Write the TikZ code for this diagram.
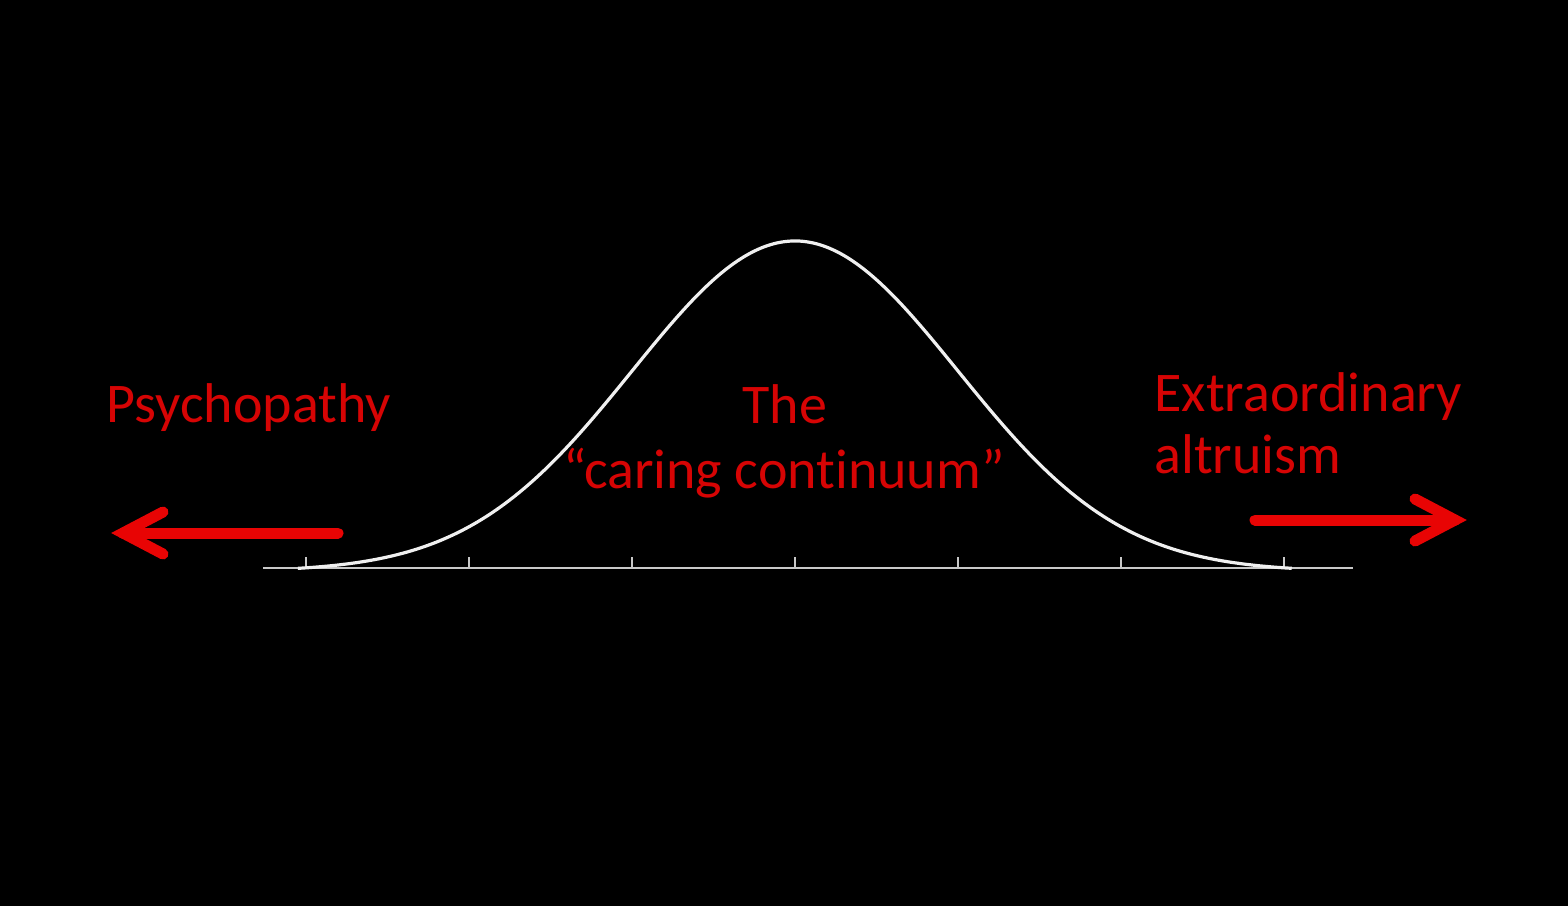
\documentclass[tikz,border=0pt]{standalone}
\usepackage{fontspec}
\setmainfont{Carlito}[Ligatures=NoCommon]
\definecolor{txtred}{RGB}{214,4,4}
\definecolor{arrred}{RGB}{232,4,4}
\definecolor{axisgray}{RGB}{200,200,200}
\tikzset{
  lbl/.style={text=txtred, inner sep=0pt, font=\fontsize{28}{33}\selectfont},
  bigarrow/.style={draw=arrred, line width=5.5pt, line cap=round},
  arrowhead/.style={draw=arrred, line width=5.5pt, line cap=round, line join=miter},
  axisline/.style={draw=axisgray, line width=1.2pt},
  tick/.style={draw=axisgray, line width=1.1pt},
  bell/.style={draw=white!94!black, line width=1.6pt}
}
\begin{document}
\begin{tikzpicture}[x=0.5pt, y=-0.5pt]
\fill[black] (0,0) rectangle (1568,906);
\useasboundingbox (0,0) rectangle (1568,906);
% axis
\coordinate (axL) at (263,568);
\coordinate (axR) at (1353,568);
\draw[axisline] (axL) -- (axR);
\foreach \k in {-3,...,3} {
  \coordinate (t\k) at ({795+163*\k},568);
  \draw[tick] (t\k) -- ++(0,-11);
}
% bell curve
\draw[bell] plot[domain=-3.05:3.05, samples=200, smooth]
  ({795+163*\x},{568-327*(exp(-\x*\x/2)-0.0105)/(1-0.0105)});
% left arrow
\coordinate (lS) at (338,533);
\coordinate (lT) at (123,533);
\coordinate (lB1) at (163,512);
\coordinate (lB2) at (163,554);
\draw[bigarrow] (lS) -- (lT);
\draw[arrowhead] (lB1) -- (lT) -- (lB2);
% right arrow
\coordinate (rS) at (1255,520);
\coordinate (rT) at (1455,520);
\coordinate (rB1) at (1415,499);
\coordinate (rB2) at (1415,541);
\draw[bigarrow] (rS) -- (rT);
\draw[arrowhead] (rB1) -- (rT) -- (rB2);
% labels
\node[lbl, anchor=base west] (psy) at (106,422) {Psychopathy};
\node[lbl, anchor=base] (the) at (785,423) {The};
\node[lbl, anchor=base] (cc) at (784,488) {“caring continuum”};
\node[lbl, anchor=base west] (ex) at (1154,411) {Extraordinary};
\node[lbl, anchor=base west] (al) at (1154,473) {altruism};
\end{tikzpicture}
\end{document}
